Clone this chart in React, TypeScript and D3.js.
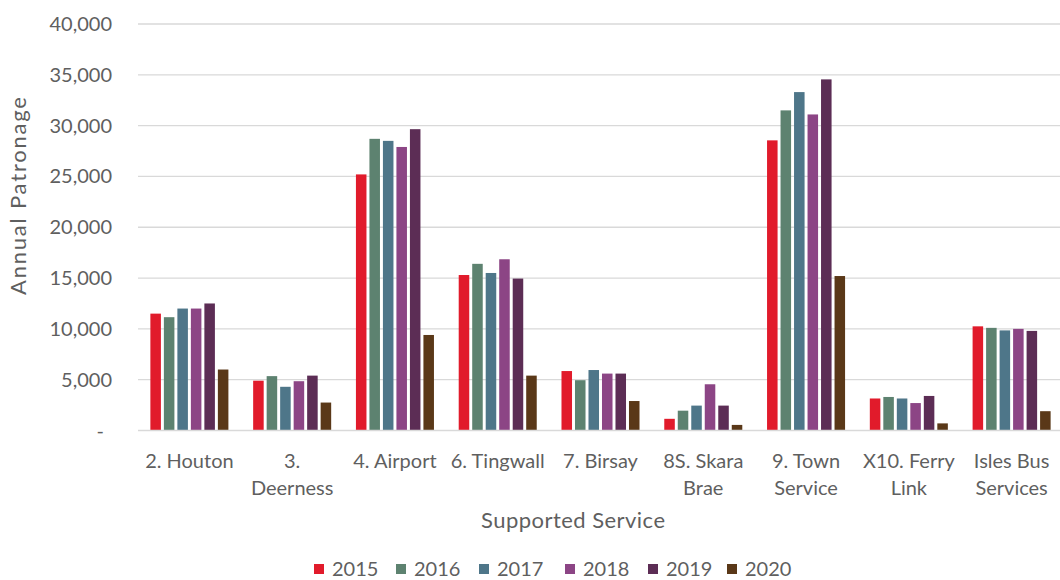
import React, { useMemo } from "react";
import * as d3 from "d3";

const categories = [
  "2. Houton",
  "3. Deerness",
  "4. Airport",
  "6. Tingwall",
  "7. Birsay",
  "8S. Skara Brae",
  "9. Town Service",
  "X10. Ferry Link",
  "Isles Bus Services",
];
const years = ["2015", "2016", "2017", "2018", "2019", "2020"];

const v2015 = [11500, 4900, 25200, 15300, 5850, 1150, 28550, 3150, 10250];
const v2016 = [11150, 5350, 28700, 16400, 4950, 1950, 31500, 3300, 10100];
const v2017 = [12000, 4300, 28500, 15500, 5950, 2450, 33300, 3150, 9850];
const v2018 = [12000, 4850, 27900, 16850, 5600, 4550, 31100, 2700, 10000];
const v2019 = [12500, 5400, 29650, 14950, 5600, 2450, 34550, 3400, 9800];
const v2020 = [6000, 2750, 9400, 5400, 2900, 550, 15200, 700, 1900];
const series = [v2015, v2016, v2017, v2018, v2019, v2020];

const colors = ["#e11b2b", "#5d8270", "#4e7689", "#8c4585", "#5c2d55", "#5a3818"];
const yTicks = [0, 5000, 10000, 15000, 20000, 25000, 30000, 35000, 40000];

const W = 1060;
const H = 580;
const FONT = "Lato, 'Open Sans', sans-serif";
const TEXT = "#5f5f5f";

function wrap(label: string, maxW: number, font: string): string[] {
  const canvas = document.createElement("canvas");
  const ctx = canvas.getContext("2d")!;
  ctx.font = font;
  const words = label.split(" ");
  const lines: string[] = [];
  let cur = "";
  for (const w of words) {
    const test = cur ? cur + " " + w : w;
    if (ctx.measureText(test).width > maxW && cur) {
      lines.push(cur);
      cur = w;
    } else cur = test;
  }
  if (cur) lines.push(cur);
  return lines;
}

export default function App() {
  const x0 = d3.scaleBand<string>().domain(categories).range([138, 1063]).paddingInner(0.212).paddingOuter(0.106);
  const x1 = d3.scaleBand<string>().domain(years).range([0, x0.bandwidth()]).paddingInner(0.22).paddingOuter(0.11);
  const y = d3.scaleLinear().domain([0, 40000]).range([430.5, 24]);
  const fmt = d3.format(",");

  const wrapped = useMemo(
    () => categories.map((c) => wrap(c, 98, `20px Lato`)),
    []
  );

  const legendX = [314, 396, 479, 565, 648, 727];

  return (
    <svg width={W} height={H} style={{ display: "block", position: "absolute", left: 0, top: 0, background: "#fff" }}>
      <rect width={W} height={H} fill="#fff" />
      {yTicks.map((t) => (
        <g key={t}>
          {t > 0 && (
            <line x1={138} x2={1060} y1={y(t)} y2={y(t)} stroke="#d9d9d9" strokeWidth={1.3} />
          )}
          <text
            x={t === 0 ? 104 : 112}
            y={y(t)}
            dy="0.35em"
            textAnchor="end"
            fontFamily={FONT}
            fontSize={20}
            fill={TEXT}
          >
            {t === 0 ? "-" : fmt(t)}
          </text>
        </g>
      ))}
      {categories.map((c, ci) => (
        <g key={c} transform={`translate(${x0(c)},0)`}>
          {years.map((yr, si) => {
            const v = series[si][ci];
            return (
              <rect
                key={yr}
                x={x1(yr)}
                y={y(v)}
                width={x1.bandwidth()}
                height={y(0) - y(v)}
                fill={colors[si]}
              />
            );
          })}
        </g>
      ))}
      <line x1={138} x2={1060} y1={y(0)} y2={y(0)} stroke="#d9d9d9" strokeWidth={1.3} />
      {categories.map((c, ci) => (
        <text
          key={c}
          x={(x0(c) as number) + x0.bandwidth() / 2}
          y={468}
          textAnchor="middle"
          fontFamily={FONT}
          fontSize={20}
          fill={TEXT}
        >
          {wrapped[ci].map((ln, li) => (
            <tspan key={li} x={(x0(c) as number) + x0.bandwidth() / 2} dy={li === 0 ? 0 : 27}>
              {ln}
            </tspan>
          ))}
        </text>
      ))}
      <text
        x={573}
        y={528}
        textAnchor="middle"
        fontFamily={FONT}
        fontSize={22}
        fill={TEXT}
        textLength={184}
        lengthAdjust="spacing"
      >
        Supported Service
      </text>
      <text
        transform="translate(26,196) rotate(-90)"
        textAnchor="middle"
        fontFamily={FONT}
        fontSize={22}
        fill={TEXT}
        textLength={198}
        lengthAdjust="spacing"
      >
        Annual Patronage
      </text>
      {years.map((yr, i) => (
        <g key={yr}>
          <rect x={legendX[i]} y={564} width={10} height={10} fill={colors[i]} />
          <text x={legendX[i] + 18} y={569} dy="0.35em" fontFamily={FONT} fontSize={20} fill={TEXT}>
            {yr}
          </text>
        </g>
      ))}
    </svg>
  );
}
